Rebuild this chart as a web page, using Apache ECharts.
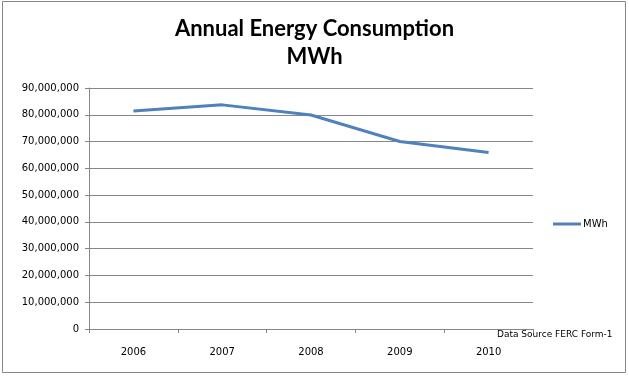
<!DOCTYPE html>
<html>
<head>
<meta charset="utf-8">
<script src="https://cdn.jsdelivr.net/npm/echarts@6/dist/echarts.min.js"></script>
<style>
  html, body { margin: 0; padding: 0; background: #fff; }
  #chart { width: 629px; height: 376px; }
</style>
</head>
<body>
<div id="chart"></div>
<script>
// data
const years = ['2006', '2007', '2008', '2009', '2010'];
const mwh = [81400000, 83700000, 79900000, 70000000, 65900000];
const yTicks = [0, 10000000, 20000000, 30000000, 40000000, 50000000, 60000000, 70000000, 80000000, 90000000];

let chart = echarts.init(document.getElementById('chart'));

chart.setOption({
  animation: false,
  title: {
    text: 'Annual Energy Consumption\nMWh',
    left: 'center',
    top: 10,
    textStyle: {
      fontFamily: 'Lato',
      fontWeight: 'bold',
      fontSize: 22,
      lineHeight: 28,
      color: '#000'
    }
  },
  legend: {
    orient: 'vertical',
    left: 548,
    top: 214,
    itemWidth: 28,
    itemHeight: 3,
    itemGap: 4,
    icon: 'rect',
    textStyle: { fontFamily: 'DejaVu Sans', fontSize: 10, color: '#000', padding: [0, 0, 0, -3] },
    data: ['MWh']
  },
  grid: { left: 89, right: 96, top: 88, bottom: 47 },
  xAxis: {
    type: 'category',
    data: years,
    boundaryGap: true,
    axisLine: { lineStyle: { color: '#868686', width: 1 } },
    axisTick: { show: true, length: 4, lineStyle: { color: '#868686' } },
    axisLabel: { margin: 18, fontFamily: 'DejaVu Sans', fontSize: 10, color: '#000' }
  },
  yAxis: {
    type: 'value',
    min: yTicks[0],
    max: yTicks[yTicks.length - 1],
    interval: 10000000,
    axisLine: { show: true, lineStyle: { color: '#868686', width: 1 } },
    axisTick: { show: true, length: 4, lineStyle: { color: '#868686' } },
    splitLine: { lineStyle: { color: '#868686', width: 1 } },
    axisLabel: {
      margin: 10,
      fontFamily: 'DejaVu Sans',
      fontSize: 10,
      color: '#000',
      formatter: v => v.toLocaleString('en-US')
    }
  },
  series: [{
    name: 'MWh',
    type: 'line',
    data: mwh,
    symbol: 'none',
    itemStyle: { color: '#4F81BD' },
    lineStyle: { color: '#4F81BD', width: 3 }
  }],
  graphic: [
    {
      type: 'rect',
      shape: { x: 2.5, y: 1.5, width: 623, height: 371 },
      style: { fill: 'none', stroke: '#868686', lineWidth: 1 },
      silent: true
    },
    {
      type: 'text',
      left: 497,
      top: 330,
      style: {
        text: 'Data Source FERC Form-1',
        fontFamily: 'DejaVu Sans',
        fontSize: 9,
        fill: '#000'
      }
    }
  ]
});
</script>
</body>
</html>
